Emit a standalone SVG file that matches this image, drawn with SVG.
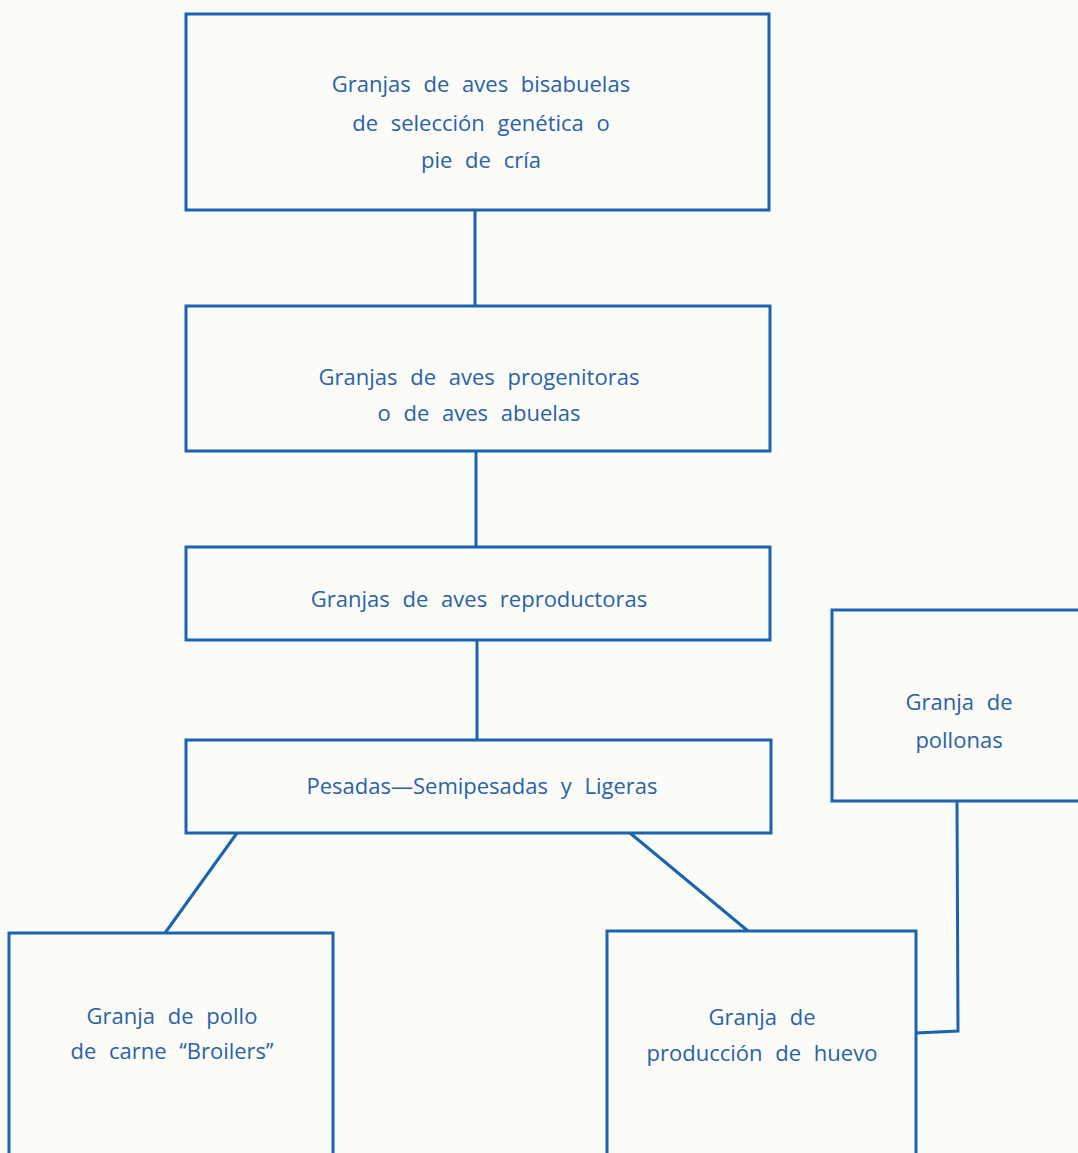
<svg xmlns="http://www.w3.org/2000/svg" width="1078" height="1153" viewBox="0 0 1078 1153">
<style>
.box{fill:none;stroke:#1a63b0;stroke-width:3}
.ln{fill:none;stroke:#1a63b0;stroke-width:3}
text{font-family:"Open Sans","DejaVu Sans",sans-serif;font-size:22px;fill:#2a62a6;text-anchor:middle;word-spacing:7px}
</style>
<rect width="1078" height="1153" fill="#fbfcf8"/>
<g id="connectors">
<line class="ln" x1="475" y1="210" x2="475" y2="306"/>
<line class="ln" x1="476" y1="451" x2="476" y2="547"/>
<line class="ln" x1="477" y1="640" x2="477" y2="740"/>
<line class="ln" x1="237" y1="833" x2="165" y2="933"/>
<line class="ln" x1="630" y1="833" x2="748" y2="931"/>
<polyline class="ln" points="957,801 958,1031 916,1033"/>
</g>
<g id="n1">
<rect class="box" x="186" y="14" width="583" height="196"/>
<text x="481" y="92">Granjas de aves bisabuelas</text>
<text x="481" y="131">de selección genética o</text>
<text x="481" y="168">pie de cría</text>
</g>
<g id="n2">
<rect class="box" x="186" y="306" width="584" height="145"/>
<text x="479" y="385">Granjas de aves progenitoras</text>
<text x="479" y="421">o de aves abuelas</text>
</g>
<g id="n3">
<rect class="box" x="186" y="547" width="584" height="93"/>
<text x="479" y="607">Granjas de aves reproductoras</text>
</g>
<g id="n4">
<rect class="box" x="186" y="740" width="585" height="93"/>
<text x="482" y="794">Pesadas—Semipesadas y Ligeras</text>
</g>
<g id="n5">
<rect class="box" x="832" y="610" width="260" height="191"/>
<text x="959" y="710">Granja de</text>
<text x="959" y="748">pollonas</text>
</g>
<g id="n6">
<rect class="box" x="9" y="933" width="324" height="240"/>
<text x="172" y="1024">Granja de pollo</text>
<text x="172" y="1059">de carne ‘‘Broilers’’</text>
</g>
<g id="n7">
<rect class="box" x="607" y="931" width="309" height="240"/>
<text x="762" y="1025">Granja de</text>
<text x="762" y="1061">producción de huevo</text>
</g>
</svg>
